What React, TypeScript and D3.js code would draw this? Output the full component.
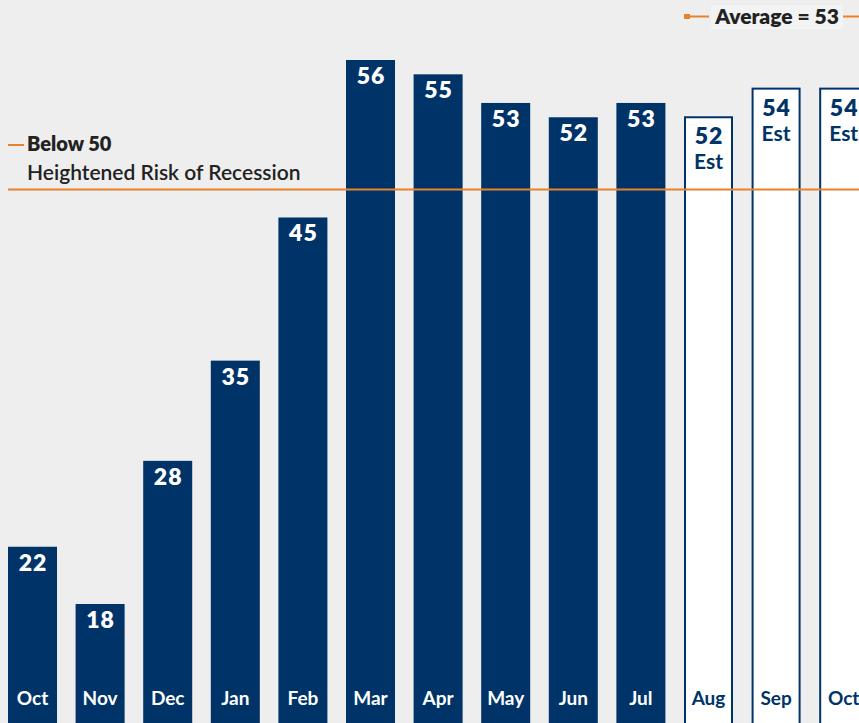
import React, { useEffect, useRef } from 'react';
import * as d3 from 'd3';

// months shown, oldest first
const months = ['Oct', 'Nov', 'Dec', 'Jan', 'Feb', 'Mar', 'Apr', 'May', 'Jun', 'Jul', 'Aug', 'Sep', 'Oct2'];
const monthLabels = ['Oct', 'Nov', 'Dec', 'Jan', 'Feb', 'Mar', 'Apr', 'May', 'Jun', 'Jul', 'Aug', 'Sep', 'Oct'];
const values = [22, 18, 28, 35, 45, 56, 55, 53, 52, 53, 52, 54, 54];
const estimated = [false, false, false, false, false, false, false, false, false, false, true, true, true];
const threshold = 47;
const average = 53;

const W = 859;
const H = 723;
const NAVY = '#003468';
const ORANGE = '#e8822c';
const FONT = 'Lato, "Open Sans", sans-serif';

export default function App() {
  const ref = useRef<SVGSVGElement>(null);

  useEffect(() => {
    const svg = d3.select(ref.current);
    svg.selectAll('*').remove();

    const x = d3.scaleBand<string>()
      .domain(months)
      .range([8, 868.2])
      .paddingInner(0.275)
      .paddingOuter(0);
    const y = d3.scaleLinear().domain([0, 56]).range([861.7, 60]);

    svg.append('rect').attr('width', W).attr('height', H).attr('fill', '#eeeeee');

    const data = months.map((m, i) => ({ m, label: monthLabels[i], v: values[i], est: estimated[i] }));

    const g = svg.append('g');
    const bars = g.selectAll('g.bar').data(data).enter().append('g').attr('class', 'bar');

    bars.append('rect')
      .attr('x', d => (d.est ? x(d.m)! + 1 : x(d.m)!))
      .attr('y', d => y(d.v))
      .attr('width', d => (d.est ? x.bandwidth() - 2 : x.bandwidth()))
      .attr('height', d => H + 5 - y(d.v))
      .attr('fill', d => (d.est ? '#ffffff' : NAVY))
      .attr('stroke', d => (d.est ? NAVY : 'none'))
      .attr('stroke-width', 2);

    bars.append('text')
      .attr('x', d => x(d.m)! + x.bandwidth() / 2 + 0.5)
      .attr('y', d => y(d.v) + (d.est ? 27 : 24))
      .attr('text-anchor', 'middle')
      .attr('font-family', FONT)
      .attr('font-weight', 800)
      .attr('font-size', 23)
      .attr('letter-spacing', 1)
      .attr('fill', d => (d.est ? NAVY : '#ffffff'))
      .text(d => d.v);

    bars.filter(d => d.est).append('text')
      .attr('x', d => x(d.m)! + x.bandwidth() / 2)
      .attr('y', d => y(d.v) + 52)
      .attr('text-anchor', 'middle')
      .attr('font-family', FONT)
      .attr('font-weight', 700)
      .attr('font-size', 21)
      .attr('fill', NAVY)
      .text('Est');

    bars.append('text')
      .attr('x', d => x(d.m)! + x.bandwidth() / 2)
      .attr('y', 705)
      .attr('text-anchor', 'middle')
      .attr('font-family', FONT)
      .attr('font-weight', 700)
      .attr('font-size', 19)
      .attr('fill', d => (d.est ? NAVY : '#ffffff'))
      .text(d => d.label);

    // threshold line
    const ty = Math.round(y(threshold)) + 0.5;
    svg.append('line')
      .attr('x1', 8).attr('x2', W)
      .attr('y1', ty).attr('y2', ty)
      .attr('stroke', ORANGE).attr('stroke-width', 2);
    svg.append('line')
      .attr('x1', 8).attr('x2', 24)
      .attr('y1', 145).attr('y2', 145)
      .attr('stroke', ORANGE).attr('stroke-width', 2);
    svg.append('text')
      .attr('x', 27).attr('y', 151)
      .attr('font-family', FONT).attr('font-weight', 800).attr('font-size', 20)
      .attr('fill', '#222222')
      .text('Below 50');
    svg.append('text')
      .attr('x', 27).attr('y', 180)
      .attr('font-family', FONT).attr('font-weight', 600).attr('font-size', 21)
      .attr('fill', '#222222')
      .text('Heightened Risk of Recession');

    // average legend
    svg.append('line')
      .attr('x1', 685).attr('x2', 709)
      .attr('y1', 16.5).attr('y2', 16.5)
      .attr('stroke', ORANGE).attr('stroke-width', 2);
    svg.append('rect')
      .attr('x', 684).attr('y', 14).attr('width', 6).attr('height', 5)
      .attr('fill', ORANGE);
    svg.append('line')
      .attr('x1', 843).attr('x2', W)
      .attr('y1', 16.5).attr('y2', 16.5)
      .attr('stroke', ORANGE).attr('stroke-width', 2);
    svg.append('rect')
      .attr('x', 711).attr('y', 5).attr('width', 132).attr('height', 24)
      .attr('fill', '#f3f3f3');
    svg.append('text')
      .attr('x', 777).attr('y', 24)
      .attr('text-anchor', 'middle')
      .attr('font-family', FONT).attr('font-weight', 800).attr('font-size', 21)
      .attr('fill', '#222222')
      .text(`Average = ${average}`);
  }, []);

  return (
    <svg
      ref={ref}
      width={W}
      height={H}
      style={{ position: 'fixed', left: 0, top: 0, display: 'block' }}
    />
  );
}
